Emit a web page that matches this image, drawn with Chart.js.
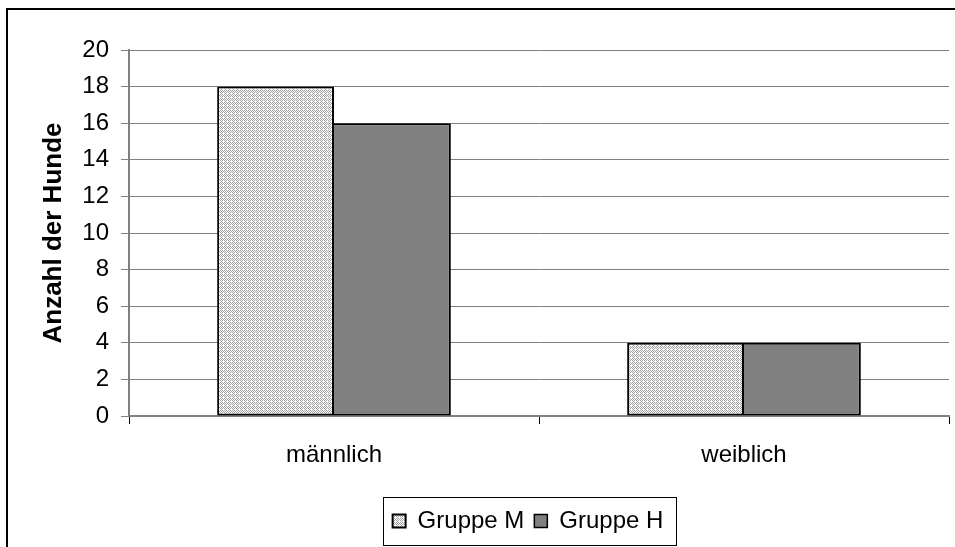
<!DOCTYPE html>
<html>
<head>
<meta charset="utf-8">
<script src="https://cdn.jsdelivr.net/npm/chart.js@4"></script>
<style>
    html, body { margin: 0; padding: 0; background: #fff; }
    #wrap { width: 955px; height: 547px; }
</style>
</head>
<body>
<div id="wrap"><canvas id="hundeChart" width="955" height="547"></canvas></div>
<script>
const kategorien = ['männlich', 'weiblich'];
const gruppeM = [18, 4];
const gruppeH = [16, 4];
const serienNamen = ['Gruppe M', 'Gruppe H'];

const schrift = 'Liberation Sans, Arial, sans-serif';

// helles Punktraster für Gruppe M
function rasterMuster() {
    const c = document.createElement('canvas');
    c.width = 4;
    c.height = 4;
    const g = c.getContext('2d');
    g.fillStyle = '#ffffff';
    g.fillRect(0, 0, 4, 4);
    g.fillStyle = '#a0a0a0';
    const punkte = [[0, 0], [2, 0], [1, 1], [0, 2], [2, 2], [3, 3], [1, 3]];
    punkte.forEach(p => g.fillRect(p[0], p[1], 1, 1));
    return g.createPattern(c, 'repeat');
}

const rahmenPlugin = {
    id: 'rahmen',
    afterUpdate(chart) {
        // Legende etwa unter die Mitte des Diagrammbereichs schieben
        const lg = chart.legend;
        if (!lg) return;
        const mitte = (chart.chartArea.left + chart.chartArea.right) / 2 - 11;
        const d = mitte - (lg.left + lg.right) / 2;
        lg.left += d;
        lg.right += d;
        lg.legendHitBoxes.forEach(b => { b.left += d; });
    },
    beforeDraw(chart) {
        const ctx = chart.ctx;
        ctx.save();
        ctx.fillStyle = '#ffffff';
        ctx.fillRect(0, 0, chart.width, chart.height);
        ctx.strokeStyle = '#000000';
        ctx.lineWidth = 2;
        ctx.beginPath();
        ctx.moveTo(7, chart.height);
        ctx.lineTo(7, 9);
        ctx.lineTo(chart.width, 9);
        ctx.stroke();
        ctx.restore();
    },
    afterDraw(chart) {
        const lg = chart.legend;
        if (!lg || !lg.legendHitBoxes.length) return;
        const boxes = lg.legendHitBoxes;
        const links = Math.min(...boxes.map(b => b.left)) - 10;
        const rechts = Math.max(...boxes.map(b => b.left + b.width)) + 12;
        const ctx = chart.ctx;
        ctx.save();
        ctx.strokeStyle = '#000000';
        ctx.lineWidth = 1;
        ctx.strokeRect(Math.round(links) + 0.5, 497.5, Math.round(rechts - links), 48);
        ctx.restore();
    }
};

const muster = rasterMuster();

new Chart(document.getElementById('hundeChart'), {
    type: 'bar',
    data: {
        labels: kategorien,
        datasets: [
            {
                label: serienNamen[0],
                data: gruppeM,
                backgroundColor: muster,
                borderColor: '#000000',
                borderWidth: 2,
                borderSkipped: false,
                categoryPercentage: 0.57,
                barPercentage: 1.0
            },
            {
                label: serienNamen[1],
                data: gruppeH,
                backgroundColor: '#808080',
                borderColor: '#000000',
                // linke Kante teilt sich die Linie mit dem Nachbarbalken
                borderWidth: { top: 2, right: 2, bottom: 2, left: 0 },
                borderSkipped: false,
                categoryPercentage: 0.57,
                barPercentage: 1.0
            }
        ]
    },
    plugins: [rahmenPlugin],
    options: {
        responsive: false,
        animation: false,
        layout: { padding: { left: 10, top: 50, right: 6, bottom: 4 } },
        scales: {
            x: {
                grid: {
                    offset: true,
                    drawOnChartArea: false,
                    drawTicks: true,
                    tickLength: 8,
                    color: '#000000'
                },
                border: { color: '#808080', width: 2 },
                ticks: {
                    color: '#000000',
                    padding: 17,
                    font: { family: schrift, size: 24 }
                },
                afterFit(scale) { scale.height = 83; }
            },
            y: {
                min: 0,
                max: 20,
                ticks: {
                    stepSize: 2,
                    color: '#000000',
                    padding: 12,
                    font: { family: schrift, size: 24 }
                },
                grid: { color: '#808080', tickLength: 8 },
                border: { color: '#808080', width: 2 },
                title: {
                    display: true,
                    text: 'Anzahl der Hunde',
                    color: '#000000',
                    padding: { top: 28, bottom: 0 },
                    font: { family: schrift, size: 26, weight: 'bold' }
                },
                afterFit(scale) { scale.width = 119; }
            }
        },
        plugins: {
            legend: {
                position: 'bottom',
                labels: {
                    color: '#000000',
                    boxWidth: 13,
                    boxHeight: 13,
                    padding: 10,
                    font: { family: schrift, size: 24 }
                }
            },
            tooltip: { enabled: false }
        }
    }
});
</script>
</body>
</html>
